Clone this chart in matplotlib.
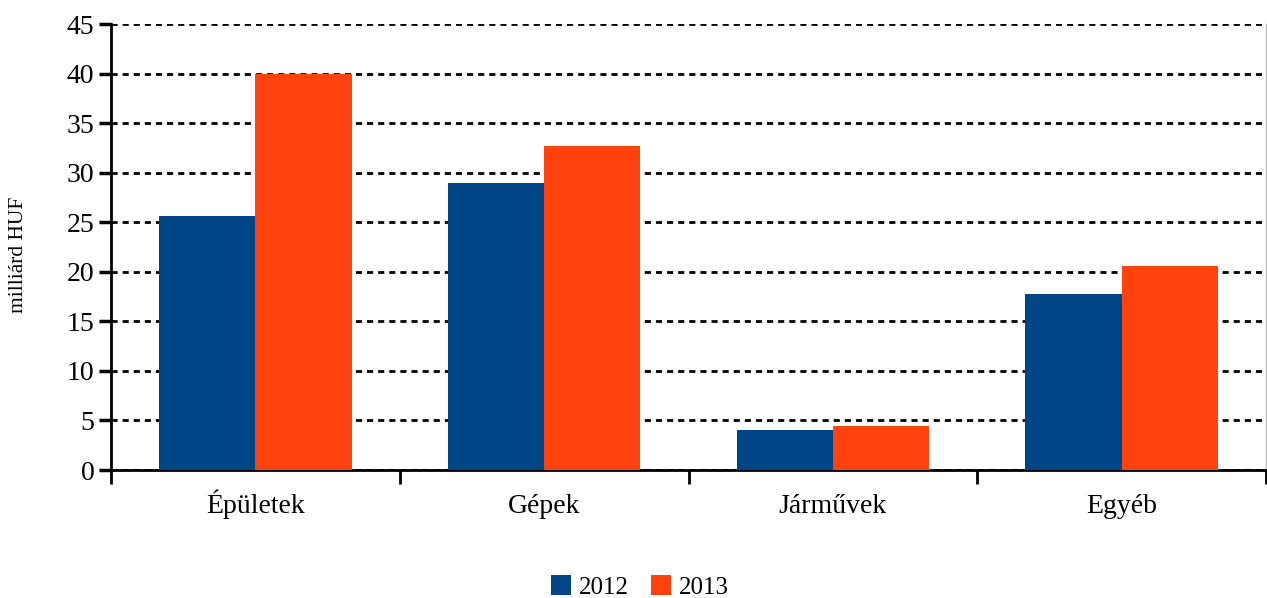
import matplotlib
matplotlib.use("Agg")
import matplotlib.pyplot as plt
import matplotlib.transforms as mtransforms
import numpy as np

categories = ["Épületek", "Gépek", "Járművek", "Egyéb"]
years = ["2012", "2013"]
values_2012 = [25.6, 29.0, 4.05, 17.75]
values_2013 = [40.0, 32.7, 4.45, 20.6]
yticks = [0, 5, 10, 15, 20, 25, 30, 35, 40, 45]

plt.rcParams['font.family'] = ['Liberation Serif', 'DejaVu Serif']
fs = 20

fig = plt.figure(figsize=(12.67, 5.98), dpi=100)
ax = fig.add_axes([111/1267, 128/598, 1155/1267, 446/598])

x = np.arange(len(categories))
w = 1/3
ax.bar(x - w/2, values_2012, w, color="#004586", label=years[0], zorder=3)
ax.bar(x + w/2, values_2013, w, color="#ff420e", label=years[1], zorder=3)

ax.set_xlim(-0.5, len(categories) - 0.5)
ax.set_ylim(0, 45)
ax.set_yticks(yticks)
ax.set_yticklabels([str(t) for t in yticks], fontsize=fs)
ax.yaxis.grid(True, color="black", linestyle=(0, (2.2, 1.8)), linewidth=2, zorder=1)
ax.set_axisbelow(True)

ax.set_xticks(np.arange(len(categories) + 1) - 0.5)
ax.set_xticklabels([])
ax.tick_params(axis='x', which='major', length=10, width=2, direction='out')
ax.tick_params(axis='y', which='major', length=9, width=2.5, direction='out', pad=3)

trans = mtransforms.blended_transform_factory(ax.transData, fig.transFigure)
for xi, c in zip(x, categories):
    ax.text(xi, 1 - 513/598, c, transform=trans, ha='center', va='baseline', fontsize=fs)

ax.spines["top"].set_visible(False)
ax.spines["right"].set_color("#bbbbbb")
ax.spines["right"].set_linewidth(1)
ax.spines["left"].set_linewidth(2)
ax.spines["bottom"].set_linewidth(2)

fig.text(19/1267, 1 - 255/598, "milliárd HUF", rotation=90, ha='center', va='center', fontsize=15.5)

fig.legend(loc="center", bbox_to_anchor=(640/1267, 1 - 587/598), ncol=2, frameon=False,
           fontsize=18, handlelength=0.8, handleheight=0.8, handletextpad=0.3, columnspacing=0.9)

fig.savefig("out.png", dpi=100)
